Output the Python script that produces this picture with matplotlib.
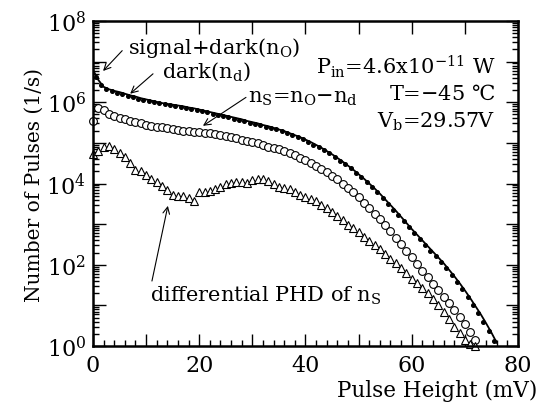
import numpy as np
import matplotlib
matplotlib.use("Agg")
import matplotlib.pyplot as plt
from matplotlib.ticker import FixedLocator, NullFormatter

plt.rcParams['font.family'] = ['DejaVu Serif', 'DejaVu Sans']
plt.rcParams['mathtext.fontset'] = 'dejavuserif'

# signal+dark (n_o), solid line, 1 mV steps from 0 mV; values are log10(counts/s)
no_x = list(range(0, 77))
no_log = [6.80, 6.55, 6.38, 6.32, 6.28, 6.25, 6.21, 6.17, 6.14, 6.10,
          6.07, 6.04, 6.01, 5.98, 5.96, 5.94, 5.92, 5.90, 5.87, 5.85,
          5.82, 5.79, 5.76, 5.73, 5.70, 5.67, 5.64, 5.61, 5.58, 5.54,
          5.51, 5.48, 5.44, 5.41, 5.37, 5.33, 5.29, 5.24, 5.19, 5.14,
          5.08, 5.02, 4.95, 4.88, 4.80, 4.72, 4.63, 4.54, 4.44, 4.34,
          4.23, 4.12, 4.00, 3.88, 3.75, 3.61, 3.47, 3.33, 3.18, 3.03,
          2.88, 2.74, 2.60, 2.46, 2.32, 2.18, 2.04, 1.88, 1.72, 1.55,
          1.37, 1.18, 0.98, 0.78, 0.56, 0.33, 0.08]

# dark (n_d), filled dots, from 0.5 mV in 1 mV steps
nd_x = [0.5 + i for i in range(0, 76)]
nd_log = [6.62, 6.42, 6.32, 6.27, 6.24, 6.20, 6.16, 6.13, 6.09, 6.06,
          6.03, 6.00, 5.97, 5.95, 5.93, 5.91, 5.89, 5.86, 5.84, 5.81,
          5.78, 5.75, 5.72, 5.69, 5.66, 5.63, 5.60, 5.57, 5.53, 5.50,
          5.47, 5.43, 5.40, 5.36, 5.33, 5.29, 5.24, 5.19, 5.14, 5.09,
          5.03, 4.96, 4.89, 4.82, 4.74, 4.65, 4.56, 4.47, 4.37, 4.26,
          4.15, 4.04, 3.92, 3.78, 3.64, 3.50, 3.36, 3.22, 3.07, 2.92,
          2.77, 2.63, 2.49, 2.35, 2.21, 2.06, 1.91, 1.75, 1.58, 1.40,
          1.21, 1.01, 0.81, 0.59, 0.36, 0.12]

# n_s = n_o - n_d, open circles
ns_x = list(range(0, 73))
ns_log = [5.55, 5.86, 5.80, 5.72, 5.66, 5.62, 5.58, 5.54, 5.51, 5.48,
          5.45, 5.42, 5.40, 5.38, 5.36, 5.34, 5.32, 5.30, 5.29, 5.28,
          5.27, 5.25, 5.24, 5.22, 5.20, 5.17, 5.14, 5.11, 5.08, 5.05,
          5.02, 4.99, 4.95, 4.91, 4.88, 4.84, 4.80, 4.75, 4.70, 4.64,
          4.58, 4.51, 4.44, 4.36, 4.28, 4.19, 4.10, 4.00, 3.89, 3.78,
          3.66, 3.53, 3.40, 3.26, 3.12, 2.97, 2.82, 2.66, 2.50, 2.34,
          2.18, 2.01, 1.85, 1.69, 1.53, 1.37, 1.21, 1.05, 0.88, 0.71,
          0.53, 0.34, 0.14]

# differential PHD of n_s, open triangles
dp_x = list(range(0, 73))
dp_log = [4.73, 4.80, 4.90, 4.93, 4.85, 4.76, 4.66, 4.50, 4.33, 4.30,
          4.22, 4.12, 4.03, 3.95, 3.84, 3.72, 3.70, 3.69, 3.64, 3.57,
          3.78, 3.80, 3.82, 3.86, 3.92, 3.98, 4.02, 4.04, 4.03, 4.02,
          4.08, 4.12, 4.10, 4.06, 3.98, 3.92, 3.90, 3.86, 3.80, 3.72,
          3.66, 3.62, 3.56, 3.48, 3.39, 3.31, 3.21, 3.10, 2.99, 2.90,
          2.80, 2.68, 2.58, 2.48, 2.38, 2.27, 2.15, 2.04, 1.92, 1.80,
          1.66, 1.55, 1.44, 1.30, 1.16, 1.00, 0.84, 0.66, 0.48, 0.32,
          0.16, 0.06, 0.00]

y_exps = list(range(0, 9))
y_labels = ['$10^{%d}$' % k if k % 2 == 0 else '' for k in y_exps]
x_labels = [0, 20, 40, 60, 80]

fig = plt.figure(figsize=(5.39, 4.06), dpi=100)
ax = fig.add_axes([0.1725, 0.1453, 0.7885, 0.8005])

ax.plot(no_x, 10**np.array(no_log), '-', color='black', lw=1.3, zorder=3)
ax.plot(nd_x, 10**np.array(nd_log), 'o', color='black', ms=2.6, zorder=4)
ax.plot(ns_x, 10**np.array(ns_log), 'o', mfc='white', mec='black', ms=5.6,
        mew=0.8, zorder=2, clip_on=False)
ax.plot(dp_x, 10**np.array(dp_log), '^', mfc='white', mec='black', ms=6.2,
        mew=0.8, zorder=2, clip_on=False)

ax.set_yscale('log')
ax.set_xlim(0, 80)
ax.set_ylim(1, 1e8)

ax.set_yticks([10.0**k for k in y_exps])
ax.set_yticklabels(y_labels)
ax.yaxis.set_minor_locator(FixedLocator(
    [m * 10.0**k for k in range(0, 8) for m in range(2, 10)]))
ax.yaxis.set_minor_formatter(NullFormatter())
ax.set_xticks(range(0, 81, 10))
ax.set_xticklabels([str(v) if v in x_labels else '' for v in range(0, 81, 10)])
ax.set_xticks(range(0, 81, 2), minor=True)

ax.tick_params(which='both', direction='in', top=True, right=True,
               labelsize=16, width=1.0)
ax.tick_params(axis='x', pad=6)
ax.tick_params(axis='y', pad=5)
ax.tick_params(which='major', length=9)
ax.tick_params(which='minor', length=4, top=False)
for sp in ax.spines.values():
    sp.set_linewidth(1.8)

ax.set_ylabel('Number of Pulses (1/s)', fontsize=14.5, labelpad=2)
fig.text(537 / 539, 1 - 391 / 406, 'Pulse Height (mV)', fontsize=15.5,
         ha='right', va='center')

# annotations
tfs = 15
arr = dict(arrowstyle='->', lw=0.8, color='black', shrinkA=0, shrinkB=0,
           mutation_scale=12)
ax.text(6.6, 10**7.37, 'signal+dark(n$_\\mathrm{O}$)', fontsize=tfs,
        ha='left', va='center')
ax.annotate('', xy=(1.9, 10**6.77), xytext=(5.5, 10**7.27), arrowprops=arr)
ax.text(13.0, 10**6.78, 'dark(n$_\\mathrm{d}$)', fontsize=tfs,
        ha='left', va='center')
ax.annotate('', xy=(7.0, 10**6.21), xytext=(11.3, 10**6.70), arrowprops=arr)
ax.text(29.2, 10**6.11, 'n$_\\mathrm{S}$=n$_\\mathrm{O}$$-$n$_\\mathrm{d}$',
        fontsize=tfs, ha='left', va='center')
ax.annotate('', xy=(20.7, 10**5.42), xytext=(28.8, 10**6.12), arrowprops=arr)
ax.text(10.7, 10**1.26, 'differential PHD of n$_\\mathrm{S}$', fontsize=tfs,
        ha='left', va='center')
ax.annotate('', xy=(14.1, 10**3.45), xytext=(11.1, 10**1.6), arrowprops=arr)

ax.text(75.7, 10**6.9, 'P$_\\mathrm{in}$=4.6x10$^{-11}$ W', fontsize=tfs,
        ha='right', va='center')
ax.text(75.7, 10**6.21, 'T=$-$45 \u2103', fontsize=tfs, ha='right', va='center')
ax.text(75.7, 10**5.54, 'V$_\\mathrm{b}$=29.57V', fontsize=tfs,
        ha='right', va='center')

fig.savefig('out.png', dpi=100)
